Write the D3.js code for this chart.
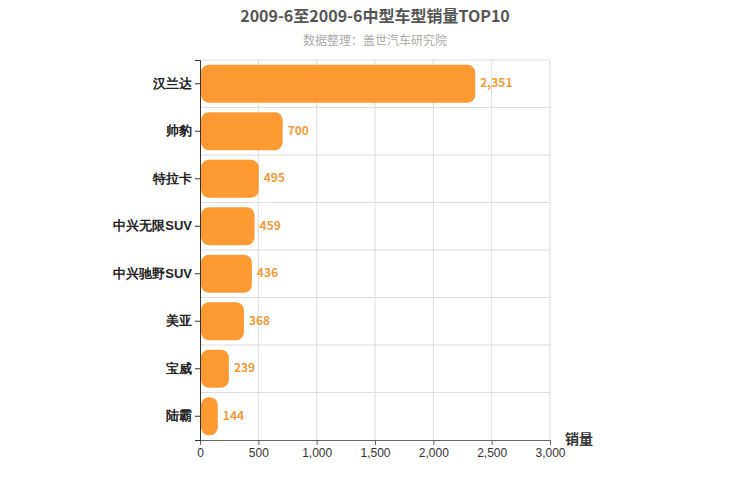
<!DOCTYPE html>
<html><head><meta charset="utf-8">
<script src="https://cdn.jsdelivr.net/npm/d3@7"></script>
<style>body{margin:0;font-family:"Noto Sans CJK SC","Noto Sans",sans-serif}</style>
</head><body><div class="container"></div>
<script>
const categories = ["汉兰达", "帅豹", "特拉卡", "中兴无限SUV", "中兴驰野SUV", "美亚", "宝威", "陆霸"];
const values = [2351, 700, 495, 459, 436, 368, 239, 144];
const xTicks = [0, 500, 1000, 1500, 2000, 2500, 3000];

const width = 750, height = 500;
const margin = { left: 200, right: 200, top: 60, bottom: 60 };

const svg = d3.select(".container").append("svg")
  .attr("width", width).attr("height", height);

const x = d3.scaleLinear().domain([0, 3000]).range([margin.left, width - margin.right]);
const y = d3.scaleBand().domain(categories).range([margin.top, height - margin.bottom]).paddingInner(0.2).paddingOuter(0.1);
const step = (height - margin.top - margin.bottom) / categories.length;

//grid
svg.append("g").selectAll("line").data(xTicks.slice(1)).join("line")
  .attr("x1", d => x(d)).attr("x2", d => x(d))
  .attr("y1", margin.top).attr("y2", height - margin.bottom)
  .attr("stroke", "#ddd");
svg.append("g").selectAll("line").data(d3.range(categories.length)).join("line")
  .attr("x1", margin.left).attr("x2", width - margin.right)
  .attr("y1", i => margin.top + i * step).attr("y2", i => margin.top + i * step)
  .attr("stroke", "#ddd");

//bars
svg.append("g").selectAll("rect").data(values).join("rect")
  .attr("x", x(0) + 1).attr("y", (d, i) => y(categories[i]))
  .attr("width", d => x(d) - x(0)).attr("height", y.bandwidth())
  .attr("rx", 8).attr("fill", "#ff9a33");

svg.append("g").selectAll("text").data(values).join("text")
  .attr("x", d => x(d) + 6).attr("y", (d, i) => y(categories[i]) + y.bandwidth() / 2)
  .attr("dominant-baseline", "middle").attr("fill", "#f39a3a")
  .attr("font-size", 12).attr("font-weight", "bold")
  .text(d => d3.format(",")(d));

//axes
const xAxis = svg.append("g").attr("transform", `translate(0,${height - margin.bottom})`)
  .call(d3.axisBottom(x).tickValues(xTicks).tickFormat(d3.format(",")).tickSize(5));
xAxis.select(".domain").attr("stroke", "#666");
xAxis.selectAll("line").attr("stroke", "#666");
xAxis.selectAll("text").attr("fill", "#333").attr("font-size", 12);

const yAxis = svg.append("g").attr("transform", `translate(${margin.left},0)`)
  .call(d3.axisLeft(y).tickSize(5));
yAxis.select(".domain").attr("stroke", "#333");
yAxis.selectAll("line").attr("stroke", "#333");
yAxis.selectAll("text").attr("fill", "#222").attr("font-size", 13).attr("font-weight", "bold");

svg.append("text").attr("x", 565).attr("y", 444).attr("font-size", 14)
  .attr("font-weight", "bold").attr("fill", "#333").text("销量");

svg.append("text").attr("x", width / 2).attr("y", 22).attr("text-anchor", "middle")
  .attr("font-size", 16).attr("font-weight", "bold").attr("fill", "#555")
  .text("2009-6至2009-6中型车型销量TOP10");
svg.append("text").attr("x", width / 2).attr("y", 45).attr("text-anchor", "middle")
  .attr("font-size", 12).attr("fill", "#aaa").text("数据整理：盖世汽车研究院");
</script></body></html>
